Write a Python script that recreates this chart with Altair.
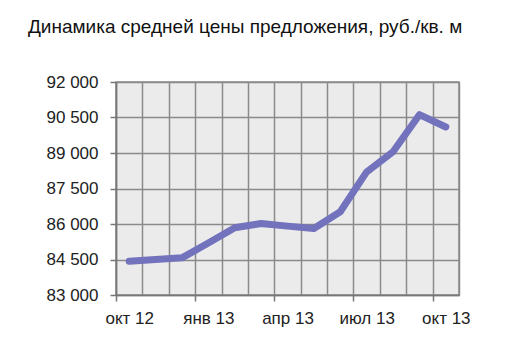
import altair as alt
import pandas as pd

months = ["окт 12", "ноя 12", "дек 12", "янв 13", "фев 13", "мар 13", "апр 13",
          "май 13", "июн 13", "июл 13", "авг 13", "сен 13", "окт 13"]
prices = [84430, 84500, 84570, 85200, 85840, 86020, 85910, 85810, 86520,
          88200, 89050, 90620, 90100]
y_ticks = [83000, 84500, 86000, 87500, 89000, 90500, 92000]

df = pd.DataFrame({"idx": list(range(len(months))), "month": months, "price": prices})

n = len(months)
x_values = [i / 2 - 0.5 for i in range(2 * n + 1)]
label_js = "[" + ",".join("'" + m + "'" for m in months) + "]"

chart = alt.Chart(df).mark_line(
    color="#7272bd", strokeWidth=7, strokeJoin="round", strokeCap="round"
).encode(
    x=alt.X("idx:Q", scale=alt.Scale(domain=[-0.5, n - 0.5], nice=False, zero=False),
            axis=alt.Axis(
                values=x_values, title=None,
                grid=True, gridColor="#8a8a8a", gridWidth=1.5,
                gridOpacity={"condition": {"test": "datum.value % 1 != 0", "value": 1}, "value": 0},
                tickOpacity={"condition": {"test": "(datum.value + 0.5) % 3 == 0 && datum.value < 12", "value": 1}, "value": 0},
                tickColor="#777777", tickSize=6, tickWidth=1.5,
                domainColor="#777777", domainWidth=1.5,
                labelExpr="datum.value % 3 == 0 ? " + label_js + "[datum.value] : ''",
                labelOverlap=False, labelFlush=False, labelFontSize=17,
                labelColor="#222222", labelFont="Liberation Sans", labelPadding=9,
            )),
    y=alt.Y("price:Q", scale=alt.Scale(domain=[83000, 92000], nice=False, zero=False),
            axis=alt.Axis(
                values=y_ticks, title=None,
                grid=True, gridColor="#8a8a8a", gridWidth=1.5,
                tickColor="#777777", tickSize=6, tickWidth=1.5,
                domainColor="#777777", domainWidth=1.5,
                labelExpr="replace(format(datum.value, ',d'), ',', ' ')",
                labelFontSize=17, labelColor="#222222", labelFont="Liberation Sans",
                labelPadding=12,
            )),
).properties(
    width=343, height=213,
    title=alt.TitleParams("Динамика средней цены предложения, руб./кв. м",
                          anchor="start", frame="group", dx=-88, fontSize=19,
                          fontWeight="normal", font="Liberation Sans",
                          color="#111111", offset=36),
    autosize=alt.AutoSizeParams(type="none"),
    padding={"left": 108, "top": 74, "right": 20, "bottom": 50},
).configure_view(fill="#ebebeb", stroke="#8a8a8a", strokeWidth=1.5)

chart.save("out.html", embed_options={"renderer": "svg", "actions": False})
